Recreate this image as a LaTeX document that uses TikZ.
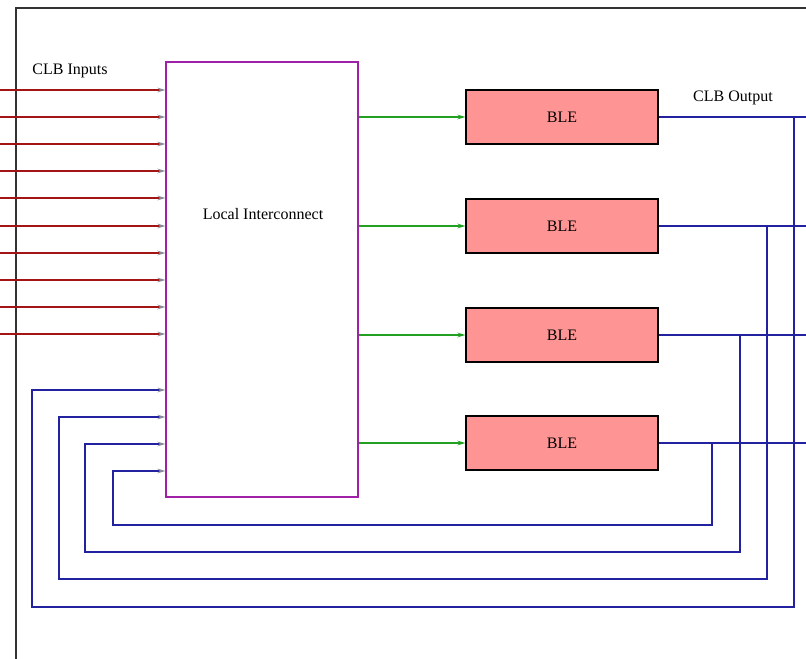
\documentclass[tikz,border=0pt]{standalone}
\usepackage{fontspec}
\setmainfont{Liberation Serif}
\usetikzlibrary{positioning,arrows.meta,calc}
\definecolor{cWire}{HTML}{A31515}
\definecolor{cLic}{HTML}{A020A8}
\definecolor{cGreen}{HTML}{22A022}
\definecolor{cBlue}{HTML}{2222A0}
\definecolor{cBle}{HTML}{FF9494}
\definecolor{cTip}{HTML}{8A8A9A}

\begin{document}
\begin{tikzpicture}[x=0.75pt,y=-0.75pt,font=\fontsize{12pt}{14pt}\selectfont,
      blebox/.style={draw=black,fill=cBle,line width=0.9pt,minimum width=144pt,inner sep=0pt},
      inarr/.style={cWire,line width=0.9pt,-{Stealth[length=6pt,width=3.5pt,color=cTip]}},
      grarr/.style={cGreen,line width=0.9pt,-{Stealth[length=6pt,width=3.5pt]}},
      fbk/.style={cBlue,line width=0.9pt,-{Stealth[length=6pt,width=3.5pt,color=cTip]}},
      outl/.style={cBlue,line width=0.9pt}]
    \useasboundingbox (0,0) rectangle (806,659);
    % frame of the CLB
    \draw[line width=1.2pt,black!80] (806,8) -- (16,8) -- (16,659);
    \node[draw=cLic,line width=0.9pt,minimum width=144pt,minimum height=326.25pt,inner sep=0pt]
      (lic) at (262,279.5) {};
    \node at (263,214) {Local Interconnect};
    \node at (70,71) {CLB Inputs};
    \node at (733,98) {CLB Output};
    \coordinate (out) at (806,0);
    % inputs
    \foreach \y [count=\i] in {90,117,144,171,198,226,253,280,307,334} {
      \coordinate (in\i) at (0,\y);
      \draw[inarr] (in\i) -- (in\i -| lic.west);
    }
    % BLEs
    \foreach \y [count=\i] in {117,226,335,443} {
      \node[blebox,minimum height=40.5pt] (ble\i) at (562,\y) {BLE};
      \draw[grarr] (ble\i.west -| lic.east) -- (ble\i.west);
      \draw[outl] (ble\i.east) -- (ble\i.east -| out);
    }
    % feedback
    \foreach \i/\xv/\yb/\xl/\yt in {1/794/607/32/390,2/767/579/59/417,3/740/552/85/444,4/712/525/113/471} {
      \coordinate (fb\i) at (\xl,\yt);
      \draw[fbk] (ble\i.east) -| (\xv,\yb) -| (fb\i) -- (fb\i -| lic.west);
    }
  \end{tikzpicture}
\end{document}
